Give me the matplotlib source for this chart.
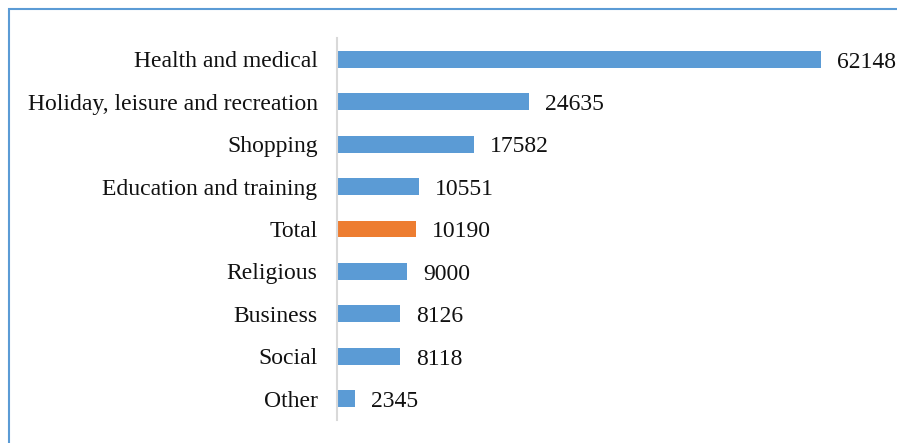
import matplotlib.pyplot as plt
from matplotlib.patches import Rectangle

categories = ["Health and medical", "Holiday, leisure and recreation", "Shopping",
              "Education and training", "Total", "Religious", "Business", "Social", "Other"]
values = [62148, 24635, 17582, 10551, 10190, 9000, 8126, 8118, 2345]
highlight = "Total"

blue = "#5B9BD5"
orange = "#ED7D31"

plt.rcParams['font.family'] = ['Liberation Serif', 'DejaVu Serif']

W, H = 897, 443
fig = plt.figure(figsize=(W / 100, H / 100), dpi=100)

# plot area in pixels
left, right, top, bottom = 337, 880, 38, 420
ax = fig.add_axes([left / W, 1 - bottom / H, (right - left) / W, (bottom - top) / H])

ypos = list(range(len(categories)))
colors = [orange if c == highlight else blue for c in categories]
bars = ax.barh(ypos, values, height=0.4, color=colors)

ax.set_ylim(len(categories) - 0.5, -0.5)
ax.set_xlim(0, 62148 * (right - left) / (821 - left))
ax.set_yticks(ypos)
ax.set_yticklabels(categories, fontsize=17, color="#111111")
ax.tick_params(axis='y', length=0, pad=14)
ax.set_xticks([])

for s in ["top", "right", "bottom"]:
    ax.spines[s].set_visible(False)
ax.spines["left"].set_color("#D9D9D9")
ax.spines["left"].set_linewidth(1.5)

for b, v in zip(bars, values):
    ax.annotate(str(v), (b.get_width(), b.get_y() + b.get_height() / 2),
                xytext=(11.5, -2), textcoords="offset points",
                va="center", ha="left", fontsize=17, color="#111111")

# outer chart frame
fig.patches.append(Rectangle((9 / W, -0.1), 1.2, 1.1 - 9 / H, transform=fig.transFigure,
                             fill=False, edgecolor=blue, linewidth=1.5, figure=fig))

fig.savefig("out.png", dpi=100)
